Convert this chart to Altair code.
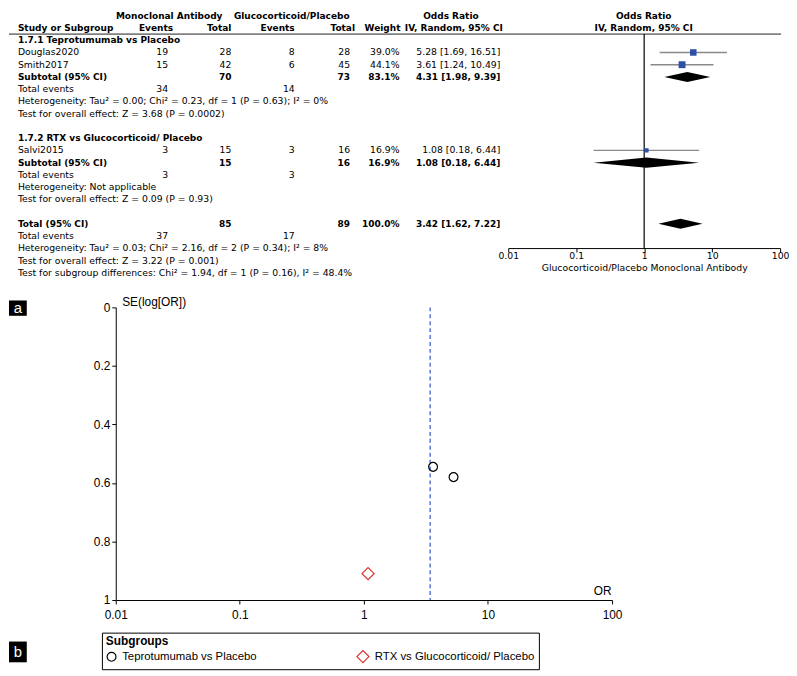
import altair as alt
import pandas as pd

# ---------------- values ----------------
study_names = ["Douglas2020", "Smith2017", "Salvi2015"]
study_group = [0, 0, 1]
mono_events = [19, 15, 3]
mono_totals = [28, 42, 15]
gluco_events = [8, 6, 3]
gluco_totals = [28, 45, 16]
study_weights = [39.0, 44.1, 16.9]
study_or = [5.28, 3.61, 1.08]
study_lo = [1.69, 1.24, 0.18]
study_hi = [16.51, 10.49, 6.44]
study_se = [0.58, 0.545, 0.91]

group_titles = ["1.7.1 Teprotumumab vs Placebo", "1.7.2 RTX vs Glucocorticoid/ Placebo"]
group_labels = ["Teprotumumab vs Placebo", "RTX vs Glucocorticoid/ Placebo"]
group_mono_events = [34, 3]
group_gluco_events = [14, 3]
group_mono_totals = [70, 15]
group_gluco_totals = [73, 16]
group_weights = [83.1, 16.9]
group_or = [4.31, 1.08]
group_lo = [1.98, 0.18]
group_hi = [9.39, 6.44]
group_heterogeneity = [
    "Heterogeneity: Tau² = 0.00; Chi² = 0.23, df = 1 (P = 0.63); I² = 0%",
    "Heterogeneity: Not applicable",
]
group_overall = [
    "Test for overall effect: Z = 3.68 (P = 0.0002)",
    "Test for overall effect: Z = 0.09 (P = 0.93)",
]

total_mono_events = 37
total_gluco_events = 17
total_mono_total = 85
total_gluco_total = 89
total_weight = 100.0
total_or = 3.42
total_lo = 1.62
total_hi = 7.22
total_heterogeneity = "Heterogeneity: Tau² = 0.03; Chi² = 2.16, df = 2 (P = 0.34); I² = 8%"
total_overall = "Test for overall effect: Z = 3.22 (P = 0.001)"
subgroup_difference = "Test for subgroup differences: Chi² = 1.94, df = 1 (P = 0.16), I² = 48.4%"

or_ticks = [0.01, 0.1, 1, 10, 100]
se_ticks = [0, 0.2, 0.4, 0.6, 0.8, 1]
forest_axis_title = "Glucocorticoid/Placebo  Monoclonal Antibody"

# ---------------- style ----------------
FONT_A = "DejaVu Sans"
FS_A = 9.4
FS_A_BOLD = 9.1
FONT_B = "Liberation Sans"
GRAY = "#8a8a8a"
BLUE = "#2d4fa6"
RED = "#e0302b"
DASH_BLUE = "#4060c4"

COLS = {
    "h_mono": (162, "center"), "h_gluco": (286, "center"), "h_or": (447, "center"), "h_plot": (642, "center"),
    "h_m_ev": (166, "right"), "h_m_tot": (225, "right"), "h_g_ev": (289, "right"), "h_g_tot": (350, "right"),
    "h_w": (396, "right"), "h_ci": (450, "center"), "h_ci_plot": (642, "center"),
    "study": (9, "left"), "m_ev": (161, "right"), "m_tot": (225, "right"), "g_ev": (289, "right"),
    "g_tot": (345, "right"), "w": (395, "right"), "or": (497, "right"),
}

# ---------------- table cells ----------------
cells = []


def put(row, col, text, bold=False):
    cells.append({"row": row, "col": col, "text": str(text), "bold": bold})


def ci(e, lo, hi):
    return f"{e:.2f} [{lo:.2f}, {hi:.2f}]"


put(-1, "h_mono", "Monoclonal Antibody", True)
put(-1, "h_gluco", "Glucocorticoid/Placebo", True)
put(-1, "h_or", "Odds Ratio", True)
put(-1, "h_plot", "Odds Ratio", True)
put(0, "study", "Study or Subgroup", True)
put(0, "h_m_ev", "Events", True)
put(0, "h_m_tot", "Total", True)
put(0, "h_g_ev", "Events", True)
put(0, "h_g_tot", "Total", True)
put(0, "h_w", "Weight", True)
put(0, "h_ci", "IV, Random, 95% CI", True)
put(0, "h_ci_plot", "IV, Random, 95% CI", True)

forest_rows = []
diamond_rows = []
r = 1
for g in range(len(group_titles)):
    put(r, "study", group_titles[g], True)
    r += 1
    for s in range(len(study_names)):
        if study_group[s] != g:
            continue
        put(r, "study", study_names[s])
        put(r, "m_ev", mono_events[s])
        put(r, "m_tot", mono_totals[s])
        put(r, "g_ev", gluco_events[s])
        put(r, "g_tot", gluco_totals[s])
        put(r, "w", f"{study_weights[s]:.1f}%")
        put(r, "or", ci(study_or[s], study_lo[s], study_hi[s]))
        forest_rows.append({"row": r, "est": study_or[s], "lo": study_lo[s],
                            "hi": study_hi[s], "weight": study_weights[s]})
        r += 1
    put(r, "study", "Subtotal (95% CI)", True)
    put(r, "m_tot", group_mono_totals[g], True)
    put(r, "g_tot", group_gluco_totals[g], True)
    put(r, "w", f"{group_weights[g]:.1f}%", True)
    put(r, "or", ci(group_or[g], group_lo[g], group_hi[g]), True)
    diamond_rows.append((r, group_or[g], group_lo[g], group_hi[g]))
    r += 1
    put(r, "study", "Total events")
    put(r, "m_ev", group_mono_events[g])
    put(r, "g_ev", group_gluco_events[g])
    r += 1
    put(r, "study", group_heterogeneity[g])
    r += 1
    put(r, "study", group_overall[g])
    r += 2

put(r, "study", "Total (95% CI)", True)
put(r, "m_tot", total_mono_total, True)
put(r, "g_tot", total_gluco_total, True)
put(r, "w", f"{total_weight:.1f}%", True)
put(r, "or", ci(total_or, total_lo, total_hi), True)
diamond_rows.append((r, total_or, total_lo, total_hi))
r += 1
put(r, "study", "Total events")
put(r, "m_ev", total_mono_events)
put(r, "g_ev", total_gluco_events)
r += 1
put(r, "study", total_heterogeneity)
r += 1
put(r, "study", total_overall)
r += 1
put(r, "study", subgroup_difference)

cell_df = pd.DataFrame(cells)
forest_df = pd.DataFrame(forest_rows)

DIAMOND_HALF = 0.41  # in row units
dia = []
for k, (rr, e, lo, hi) in enumerate(diamond_rows):
    dia.append({"id": k, "x": lo, "y": rr, "y2": rr})
    dia.append({"id": k, "x": e, "y": rr - DIAMOND_HALF, "y2": rr + DIAMOND_HALF})
    dia.append({"id": k, "x": hi, "y": rr, "y2": rr})
dia_df = pd.DataFrame(dia)

# ---------------- panel a ----------------
row_scale = alt.Scale(domain=[-1, 20], range=[3, 263])
HEADER_LINE_ROW = 0.5
AXIS_ROW = 18.0

forest_x = alt.Scale(type="log", domain=[0.01, 100], range=[505, 780])
forest_axis = alt.Axis(values=or_ticks, labelExpr="format(datum.value, '~g')", title=forest_axis_title,
                       titleFont=FONT_A, titleFontSize=FS_A, titleFontWeight="normal", titleColor="black",
                       titlePadding=3, labelFont=FONT_A, labelFontSize=FS_A, labelColor="black",
                       labelPadding=0, labelOverlap=False, labelFlush=False, tickSize=4,
                       tickColor="black", domainColor="black", grid=False)

text_layers = []
for key, (xpos, align) in COLS.items():
    for b in (False, True):
        sub = cell_df[(cell_df["col"] == key) & (cell_df["bold"] == b)]
        if sub.empty:
            continue
        text_layers.append(
            alt.Chart(sub).mark_text(align=align, baseline="middle", font=FONT_A,
                                     fontSize=FS_A_BOLD if b else FS_A,
                                     fontWeight="bold" if b else "normal", color="black")
            .encode(x=alt.value(xpos), y=alt.Y("row:Q", scale=row_scale, axis=None), text="text:N")
        )

one = pd.DataFrame({"k": [0]})
header_rule = alt.Chart(one).mark_rule(color="#808080", strokeWidth=1.6).encode(
    x=alt.value(0), x2=alt.value(781), y=alt.Y(datum=HEADER_LINE_ROW, scale=row_scale, axis=None))
null_rule = alt.Chart(one).mark_rule(color="black", strokeWidth=1.2).encode(
    x=alt.X(datum=1, scale=forest_x, axis=forest_axis),
    y=alt.Y(datum=HEADER_LINE_ROW, scale=row_scale, axis=None), y2=alt.Y2(datum=AXIS_ROW))
ci_rules = alt.Chart(forest_df).mark_rule(color=GRAY, strokeWidth=1.4).encode(
    x=alt.X("lo:Q", scale=forest_x, axis=forest_axis), x2="hi:Q",
    y=alt.Y("row:Q", scale=row_scale, axis=None))
squares = alt.Chart(forest_df).mark_square(color=BLUE, opacity=1).encode(
    x=alt.X("est:Q", scale=forest_x, axis=forest_axis),
    y=alt.Y("row:Q", scale=row_scale, axis=None),
    size=alt.Size("weight:Q", scale=alt.Scale(domain=[0, 45], range=[0, 50]), legend=None))
diamonds = alt.Chart(dia_df).mark_area(color="black", orient="vertical").encode(
    x=alt.X("x:Q", scale=forest_x, axis=forest_axis),
    y=alt.Y("y:Q", scale=row_scale, axis=None), y2="y2:Q", detail="id:N")

a_box = alt.Chart(one).mark_rect(color="black").encode(
    x=alt.value(0), x2=alt.value(18), y=alt.value(291), y2=alt.value(306.5))
a_txt = alt.Chart(one).mark_text(color="white", font=FONT_B, fontSize=15, baseline="middle").encode(
    x=alt.value(9), y=alt.value(299), text=alt.value("a"))

panel_a = alt.layer(*text_layers, header_rule, ci_rules, null_rule, squares, diamonds, a_box, a_txt).properties(
    width=781, height=238)

# ---------------- panel b ----------------
funnel_df = pd.DataFrame({"study": study_names, "OR": study_or, "SE": study_se,
                          "group": [group_labels[g] for g in study_group]})
funnel_x = alt.Scale(type="log", domain=[0.01, 100], range=[108, 610])
funnel_y = alt.Scale(domain=[0, 1], reverse=True)
x_axis_b = alt.Axis(values=or_ticks, labelExpr="format(datum.value, '~g')", title="OR",
                    titleX=609, titleY=-3, titleAlign="right", titleBaseline="bottom",
                    titleFont=FONT_B, titleFontSize=12, titleFontWeight="normal", titleColor="black",
                    labelFont=FONT_B, labelFontSize=12, labelColor="black", labelPadding=6,
                    labelOverlap=False, labelFlush=False, tickSize=4, tickColor="black",
                    domainColor="black", grid=False)
y_axis_b = alt.Axis(values=se_ticks, labelExpr="format(datum.value, '~g')", offset=-108,
                    title="SE(log[OR])", titleAngle=0, titleAlign="left", titleBaseline="bottom",
                    titleX=6, titleY=1, titleFont=FONT_B, titleFontSize=12, titleFontWeight="normal",
                    titleColor="black", labelFont=FONT_B, labelFontSize=12, labelColor="black",
                    labelPadding=2, tickSize=4, tickColor="black", domainColor="black", grid=False)
legend_b = alt.Legend(title="Subgroups", orient="none", legendX=94, legendY=329, direction="horizontal",
                      strokeColor="black", padding=4, titleFont=FONT_B, titleFontSize=12,
                      titleFontWeight="bold", titleColor="black", titlePadding=1, labelFont=FONT_B,
                      labelFontSize=11.5, labelColor="black", labelOffset=5, columnPadding=98,
                      symbolStrokeWidth=1.2, symbolSize=110, labelLimit=400)

points = alt.Chart(funnel_df).mark_point(filled=False, strokeWidth=1.2, opacity=1).encode(
    x=alt.X("OR:Q", scale=funnel_x, axis=x_axis_b),
    y=alt.Y("SE:Q", scale=funnel_y, axis=y_axis_b),
    shape=alt.Shape("group:N", scale=alt.Scale(domain=group_labels, range=["circle", "diamond"]), legend=legend_b),
    color=alt.Color("group:N", scale=alt.Scale(domain=group_labels, range=["black", RED]), legend=legend_b),
    size=alt.Size("group:N", scale=alt.Scale(domain=group_labels, range=[80, 150]), legend=None),
)
pooled = alt.Chart(one).mark_rule(color=DASH_BLUE, strokeDash=[4, 3], strokeWidth=1.3).encode(
    x=alt.X(datum=total_or, scale=funnel_x, axis=x_axis_b))
b_box = alt.Chart(one).mark_rect(color="black").encode(
    x=alt.value(0), x2=alt.value(18), y=alt.value(338), y2=alt.value(359))
b_txt = alt.Chart(one).mark_text(color="white", font=FONT_B, fontSize=15, baseline="middle").encode(
    x=alt.value(9), y=alt.value(348.5), text=alt.value("b"))

panel_b = alt.layer(pooled, points, b_box, b_txt).properties(width=781, height=296)

chart = alt.vconcat(panel_a, panel_b, spacing=60, bounds="flush").resolve_scale(
    color="independent", shape="independent", size="independent"
).properties(padding=0).configure_view(stroke=None)

chart.save("out.html", embed_options={"renderer": "svg", "actions": False})
